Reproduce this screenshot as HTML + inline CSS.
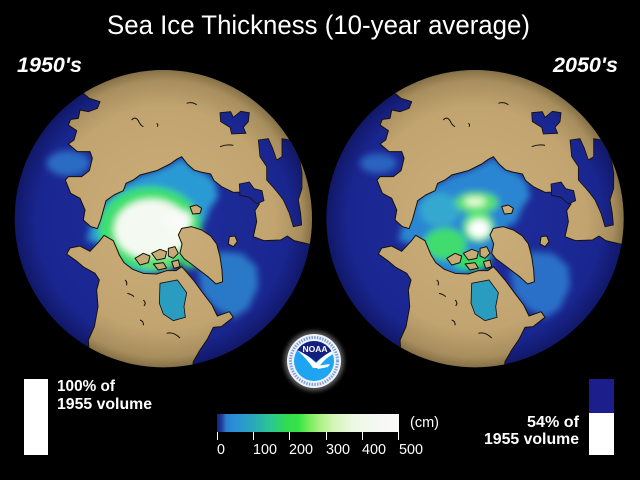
<!DOCTYPE html>
<html><head><meta charset="utf-8"><style>
html,body{margin:0;padding:0;background:#000;}
svg{display:block;}
text{font-family:"Liberation Sans",Arial,sans-serif;fill:#fff;}
</style></head><body>
<svg width="640" height="480" viewBox="0 0 640 480" xmlns="http://www.w3.org/2000/svg">
<defs>
<radialGradient id="sea" gradientUnits="userSpaceOnUse" cx="490" cy="536" r="446">
<stop offset="0" stop-color="#1f2e9e"/><stop offset="0.85" stop-color="#1a2690"/><stop offset="1" stop-color="#111868"/>
</radialGradient>
<radialGradient id="tan" gradientUnits="userSpaceOnUse" cx="490" cy="536" r="446">
<stop offset="0" stop-color="#cbae79"/><stop offset="0.75" stop-color="#c1a470"/><stop offset="0.93" stop-color="#a88e5e"/><stop offset="1" stop-color="#857045"/>
</radialGradient>
<linearGradient id="cb" x1="0" x2="1" y1="0" y2="0">
<stop offset="0" stop-color="#18207a"/><stop offset="0.025" stop-color="#1e3c9c"/><stop offset="0.05" stop-color="#2a80cc"/><stop offset="0.1" stop-color="#2a90d8"/><stop offset="0.2" stop-color="#28a8b8"/><stop offset="0.3" stop-color="#2cc890"/><stop offset="0.38" stop-color="#30dc50"/><stop offset="0.45" stop-color="#38e448"/><stop offset="0.5" stop-color="#70ec58"/><stop offset="0.56" stop-color="#a8f080"/><stop offset="0.64" stop-color="#d4f4b8"/><stop offset="0.75" stop-color="#ecf8e4"/><stop offset="0.9" stop-color="#f6f8f4"/><stop offset="1" stop-color="#fafafa"/>
</linearGradient>
<clipPath id="clip"><circle cx="490" cy="536" r="446"/></clipPath>
<clipPath id="logoclip"><circle cx="314" cy="361" r="20"/></clipPath>
<filter id="blur" x="-30%" y="-30%" width="160%" height="160%"><feGaussianBlur stdDeviation="10"/></filter>
<filter id="glow" x="-50%" y="-50%" width="200%" height="200%"><feGaussianBlur stdDeviation="2"/></filter>

<g id="land">
<g fill="url(#tan)" stroke="#16110a" stroke-width="3" stroke-linejoin="round">
<path d="M100,-50 L210,120 L250,160 L268,175 L300,185 L292,205 L265,215 L240,210 L235,235 L212,238 L205,255 L230,272 L222,300 L205,312 L232,335 L270,335 L277,355 L268,392 L245,410 L205,410 L196,420 L212,460 L240,475 L255,510 L250,540 L272,560 L292,566 L302,540 L318,482 L342,465 L370,452 L378,430 L400,420 L420,405 L470,392 L510,372 L530,358 L545,350 L562,372 L582,390 L602,396 L632,402 L642,422 L665,440 L700,457 L732,456 L762,466 L778,492 L765,512 L770,545 L760,590 L792,602 L842,600 L862,588 L882,602 L925,612 L1100,640 L1100,-50 Z"/>
<path d="M100,1100 L250,990 L268,950 L265,900 L283,860 L294,800 L290,750 L298,720 L285,700 L252,682 L228,662 L200,642 L210,624 L240,618 L270,634 L298,604 L312,586 L340,602 L358,645 L372,668 L398,688 L430,700 L470,702 L500,692 L528,692 L545,680 L556,692 L580,720 L608,758 L636,795 L652,828 L688,815 L700,832 L664,860 L640,862 L622,898 L600,930 L580,965 L575,1000 L600,1100 Z"/>
<path d="M535,585 L545,565 L575,560 L605,570 L632,588 L650,612 L660,650 L666,690 L668,725 L648,732 L626,712 L600,692 L574,672 L552,656 L540,640 L546,612 Z"/>
<path d="M405,655 L430,640 L450,648 L445,668 L420,675 Z"/>
<path d="M455,640 L480,628 L500,635 L495,655 L470,660 Z"/>
<path d="M460,672 L490,668 L500,684 L475,690 Z"/>
<path d="M505,625 L525,620 L535,640 L520,655 L505,648 Z"/>
<path d="M515,665 L535,660 L540,680 L522,685 Z"/>
<path d="M688,590 L705,588 L712,605 L700,620 L685,612 Z"/>
<path d="M570,500 L590,495 L605,505 L600,520 L578,522 Z"/>
</g>
<g fill="url(#sea)" stroke="#16110a" stroke-width="2.5" stroke-linejoin="round">
<path d="M660,218 L692,215 L700,232 L722,214 L748,218 L745,245 L730,262 L738,280 L695,282 L690,262 L662,245 Z"/>
<path d="M775,300 L805,296 L818,325 L830,360 L846,350 L846,296 L870,300 L888,330 L900,362 L906,400 L906,445 L895,480 L902,520 L905,555 L880,560 L868,520 L850,480 L835,460 L818,440 L800,420 L800,380 L780,350 Z"/>
<path d="M718,432 L748,426 L762,446 L786,452 L792,482 L770,492 L748,472 L720,466 Z"/>
</g>
<path fill="#2a9cc0" stroke="#16110a" stroke-width="2.5" d="M480,730 L532,720 L560,758 L552,800 L556,832 L520,842 L490,822 L478,790 Z"/>
<g fill="none" stroke="#16110a" stroke-width="3">
<path d="M395,240 q10,-12 20,2 q6,14 15,18"/>
<path d="M560,190 q15,-6 30,4"/>
<path d="M660,320 q20,-8 40,-4"/>
<path d="M375,720 q8,6 4,16"/>
<path d="M382,760 q12,2 20,10"/>
<path d="M430,780 q10,8 2,18"/>
<path d="M420,840 q12,4 10,16"/>
<path d="M500,880 q20,-6 40,14"/>
<path d="M470,250 q6,4 2,10"/>
</g>
</g>
</defs>

<text x="107" y="34" font-size="26.5" textLength="423" lengthAdjust="spacingAndGlyphs">Sea Ice Thickness (10-year average)</text>
<text x="17" y="72" font-size="21.5" font-weight="bold" font-style="italic" textLength="65" lengthAdjust="spacingAndGlyphs">1950's</text>
<text x="553" y="72" font-size="21.5" font-weight="bold" font-style="italic" textLength="65" lengthAdjust="spacingAndGlyphs">2050's</text>

<!-- Globe 1 -->
<g transform="translate(0,40) scale(0.33333)">
<circle cx="490" cy="536" r="446" fill="url(#sea)"/>
<g clip-path="url(#clip)">
<g filter="url(#blur)">
<path fill="#2a9ad4" d="M260,600 L275,550 L300,500 L330,462 L375,432 L420,408 L470,392 L515,372 L545,352 L580,386 L615,398 L645,425 L655,470 L630,505 L615,545 L585,560 L565,600 L545,640 L515,690 L440,708 L390,698 L350,660 L305,615 Z"/>
<path fill="#2a78c8" d="M595,690 L660,635 L725,640 L770,680 L775,740 L745,805 L700,835 L645,805 L605,760 Z"/>
<ellipse cx="205" cy="370" rx="65" ry="38" fill="#2a6cc4"/>
<ellipse cx="450" cy="565" rx="155" ry="125" fill="#3ee070"/>
<ellipse cx="455" cy="568" rx="112" ry="90" fill="#f4faf2"/>
<ellipse cx="535" cy="540" rx="40" ry="30" fill="#f8fbf8"/>
<ellipse cx="470" cy="670" rx="55" ry="24" fill="#5ee070"/>
<ellipse cx="570" cy="660" rx="30" ry="25" fill="#40d870"/>
</g>
<use href="#land"/>
</g>
</g>

<!-- Globe 2 -->
<g transform="translate(311.7,40) scale(0.33333)">
<circle cx="490" cy="536" r="446" fill="url(#sea)"/>
<g clip-path="url(#clip)">
<g filter="url(#blur)">
<path fill="#2a86d2" d="M260,600 L275,550 L300,500 L330,462 L375,432 L420,408 L470,392 L515,372 L545,352 L580,386 L615,398 L645,425 L655,470 L630,505 L615,545 L585,560 L565,600 L545,640 L515,690 L440,708 L390,698 L350,660 L305,615 Z"/>
<path fill="#2a70c8" d="M595,690 L660,635 L725,640 L770,680 L775,740 L745,805 L700,835 L645,805 L605,760 Z"/>
<ellipse cx="200" cy="370" rx="55" ry="30" fill="#2a64c0"/>
<ellipse cx="385" cy="510" rx="60" ry="50" fill="#34a8d0"/>
<ellipse cx="495" cy="488" rx="65" ry="32" fill="#58e070"/>
<ellipse cx="400" cy="612" rx="65" ry="48" fill="#40dc70"/>
<ellipse cx="480" cy="665" rx="55" ry="25" fill="#30e060"/>
<ellipse cx="500" cy="560" rx="45" ry="45" fill="#60e878"/>
<ellipse cx="502" cy="566" rx="32" ry="28" fill="#ffffff"/>
<ellipse cx="490" cy="485" rx="32" ry="14" fill="#e8fcd8"/>
</g>
<use href="#land"/>
</g>
</g>

<!-- NOAA logo -->
<circle cx="314" cy="361" r="30" fill="#ffffff" opacity="0.35" filter="url(#glow)"/>
<circle cx="314" cy="361" r="27" fill="#eef3fb"/>
<circle cx="314" cy="361" r="23.5" fill="none" stroke="#7f9fd6" stroke-width="3" stroke-dasharray="1.5 1.2"/>
<circle cx="314" cy="361" r="20" fill="#1ea4f0"/>
<g clip-path="url(#logoclip)">
<path fill="#14207e" d="M290,330 L340,330 L340,349 Q328,351 316,362 Q305,352 290,348 Z"/>
<path fill="#ffffff" d="M297,350 Q308,355 316,363 Q326,353 336,349 L335,353 Q325,358 318,368 L313,368 Q307,359 297,350 Z"/>
<path fill="#ffffff" d="M316,366 L330,364 L328,367 L318,369 Z"/>
</g>
<text x="315" y="352" font-size="8.5" font-weight="bold" text-anchor="middle">NOAA</text>

<!-- Left volume box -->
<rect x="24" y="379" width="24" height="76" fill="#ffffff"/>
<text x="57" y="391" font-size="15.5" font-weight="bold" textLength="58" lengthAdjust="spacingAndGlyphs">100% of</text>
<text x="57" y="409" font-size="15.5" font-weight="bold" textLength="95" lengthAdjust="spacingAndGlyphs">1955 volume</text>

<!-- Right volume box -->
<rect x="589" y="379" width="25" height="34" fill="#1c1e8c"/>
<rect x="589" y="413" width="25" height="42" fill="#ffffff"/>
<text x="527" y="427" font-size="15.5" font-weight="bold" textLength="52" lengthAdjust="spacingAndGlyphs">54% of</text>
<text x="484" y="444" font-size="15.5" font-weight="bold" textLength="95" lengthAdjust="spacingAndGlyphs">1955 volume</text>

<!-- Colorbar -->
<rect x="217" y="414" width="182" height="18" fill="url(#cb)"/>
<g stroke="#ffffff" stroke-width="1">
<line x1="217.5" y1="432" x2="217.5" y2="440"/>
<line x1="253.5" y1="432" x2="253.5" y2="440"/>
<line x1="289.5" y1="432" x2="289.5" y2="440"/>
<line x1="326.5" y1="432" x2="326.5" y2="440"/>
<line x1="362.5" y1="432" x2="362.5" y2="440"/>
<line x1="398.5" y1="432" x2="398.5" y2="440"/>
</g>
<g font-size="14.3">
<text x="217" y="454">0</text>
<text x="253" y="454" textLength="24" lengthAdjust="spacingAndGlyphs">100</text>
<text x="289" y="454" textLength="24" lengthAdjust="spacingAndGlyphs">200</text>
<text x="326" y="454" textLength="24" lengthAdjust="spacingAndGlyphs">300</text>
<text x="362" y="454" textLength="24" lengthAdjust="spacingAndGlyphs">400</text>
<text x="399" y="454" textLength="24" lengthAdjust="spacingAndGlyphs">500</text>
<text x="410" y="427" textLength="29" lengthAdjust="spacingAndGlyphs">(cm)</text>
</g>
</svg>
</body></html>
